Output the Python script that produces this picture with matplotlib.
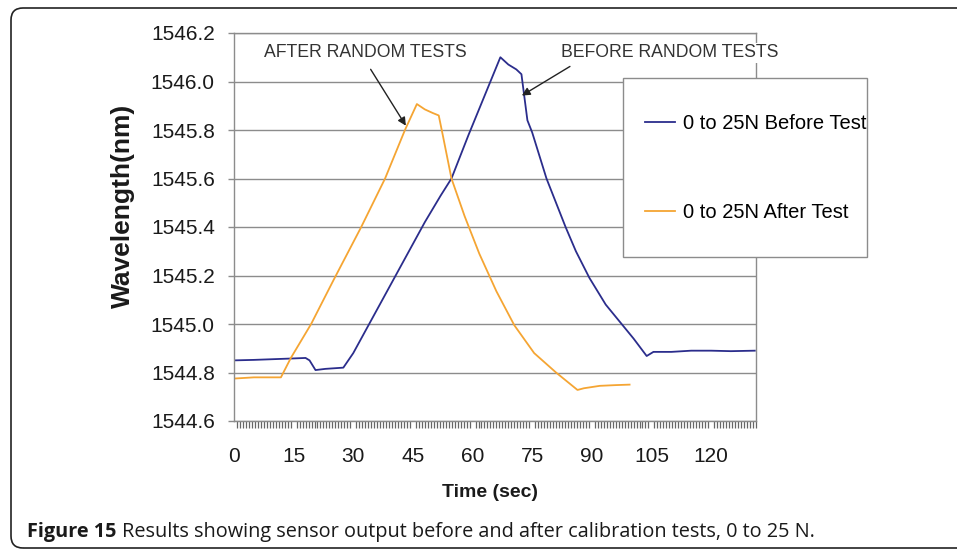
import numpy as np
import matplotlib.pyplot as plt
from matplotlib.patches import FancyBboxPatch, Rectangle

plt.rcParams['font.family'] = ['Liberation Sans', 'DejaVu Sans']

# time (s) / wavelength (nm)
t_before = [0, 5, 10, 15, 18, 19, 20.5, 23, 27.5, 30, 34, 40, 45, 48, 52, 54.7, 59, 62, 65, 67,
            69, 71, 72.3, 73.8, 75, 78.6, 83.4, 86, 89.4, 93.5, 97.5, 100.5, 103.8, 105.5, 110,
            115, 120, 125, 131]
wl_before = [1544.850, 1544.852, 1544.855, 1544.858, 1544.860, 1544.850, 1544.810, 1544.815, 1544.820,
             1544.880, 1545.000, 1545.180, 1545.330, 1545.420, 1545.530, 1545.600, 1545.780, 1545.900,
             1546.020, 1546.100, 1546.070, 1546.050, 1546.030, 1545.840, 1545.790, 1545.600, 1545.400,
             1545.300, 1545.190, 1545.080, 1545.000, 1544.940, 1544.868, 1544.885, 1544.885, 1544.890,
             1544.890, 1544.888, 1544.890]

t_after = [0, 5, 11.8, 14.3, 19.4, 25, 32, 38, 43, 46, 48, 50, 51.5, 52.5, 54.7, 58, 61.7,
           66, 70.5, 75.5, 81, 84, 86.4, 88, 92, 96, 99.5]
wl_after = [1544.775, 1544.780, 1544.780, 1544.860, 1545.000, 1545.180, 1545.400, 1545.600, 1545.800,
            1545.907, 1545.885, 1545.870, 1545.860, 1545.780, 1545.600, 1545.445, 1545.290, 1545.135,
            1544.995, 1544.880, 1544.800, 1544.760, 1544.728, 1544.735, 1544.745, 1544.748, 1544.750]

x_ticks = [0, 15, 30, 45, 60, 75, 90, 105, 120]
y_ticks = [1544.6, 1544.8, 1545.0, 1545.2, 1545.4, 1545.6, 1545.8, 1546.0, 1546.2]

fig = plt.figure(figsize=(9.57, 5.51), dpi=100)
ax = fig.add_axes([234/957, 1 - 421/551, 522/957, 388/551])

ax.plot(t_before, wl_before, color='#2b2d8c', lw=1.3, label='0 to 25N Before Test')
ax.plot(t_after, wl_after, color='#f5a533', lw=1.3, label='0 to 25N After Test')

ax.set_xlim(0, 131.3)
ax.set_ylim(1544.6, 1546.2)
ax.set_xticks(x_ticks)
ax.set_xticks(np.arange(0, 131.3, 0.75), minor=True)
ax.set_yticks(y_ticks)
ax.set_yticklabels([f'{v:.1f}' for v in y_ticks])
ax.yaxis.grid(True, color='#8c8c8c', lw=1.0)
ax.set_axisbelow(True)
for s in ax.spines.values():
    s.set_color('#8c8c8c')
    s.set_linewidth(1.0)

ax.tick_params(axis='x', which='major', length=0, pad=18.5, labelsize=15, labelcolor='#1a1a1a')
ax.tick_params(axis='x', which='minor', length=5.3, width=0.9, color='#666666', direction='out')
ax.tick_params(axis='y', which='major', length=4.3, width=1.0, color='#8c8c8c', pad=9.5,
               labelsize=15, labelcolor='#1a1a1a')

ax.set_xlabel('Time (sec)', fontsize=14, fontweight='bold', va='center', color='#1a1a1a')
ax.xaxis.set_label_coords(0.49, -0.183)
ax.set_ylabel('Wavelength(nm)', fontsize=19, fontweight='bold', va='center', ha='center',
              color='#1a1a1a')
ax.yaxis.set_label_coords(-0.2126, 0.554)

# annotations
ax.text(33, 1546.118, 'AFTER RANDOM TESTS', fontsize=12.7, ha='center', va='center', color='#333333')
ax.annotate('', xy=(43.6, 1545.808), xytext=(34, 1546.06),
            arrowprops=dict(arrowstyle='-|>', color='#222222', lw=1.0, mutation_scale=12))
ax.text(109.6, 1546.118, 'BEFORE RANDOM TESTS', fontsize=12.7, ha='center', va='center',
        color='#333333', zorder=5,
        bbox=dict(facecolor='white', edgecolor='none', pad=1))
ax.annotate('', xy=(71.8, 1545.936), xytext=(85.1, 1546.068),
            arrowprops=dict(arrowstyle='-|>', color='#222222', lw=1.0, mutation_scale=12))

# legend box
fig.add_artist(Rectangle((623/957, 1 - 257/551), 244/957, 179/551, transform=fig.transFigure,
                         facecolor='white', edgecolor='#8c8c8c', lw=1.0, zorder=4))
handles, labels = ax.get_legend_handles_labels()
fig.legend(handles, labels, loc='center left', bbox_to_anchor=(635/957, 1 - 168/551),
           frameon=False, fontsize=14.5, borderpad=0, handlelength=1.49, handletextpad=0.4,
           labelspacing=3.5).set_zorder(6)

# outer frame (open on the right)
fig.add_artist(FancyBboxPatch((0.11, 0.03), 20.0, 5.40, boxstyle='round,pad=0,rounding_size=0.12',
                              transform=fig.dpi_scale_trans, facecolor='none',
                              edgecolor='#222222', lw=1.2, zorder=7))

# caption
cap1 = fig.text(27/957, 1 - 532/551, 'Figure 15', fontsize=14.3, fontweight='bold',
                family=['Open Sans', 'DejaVu Sans'], va='center', color='#1a1a1a')
fig.canvas.draw()
bb = cap1.get_window_extent()
fig.text((bb.x1 + 6) / 957, 1 - 532/551,
         'Results showing sensor output before and after calibration tests, 0 to 25 N.',
         fontsize=14.3, family=['Open Sans', 'DejaVu Sans'], va='center', color='#1a1a1a')

fig.savefig('out.png', dpi=100)
